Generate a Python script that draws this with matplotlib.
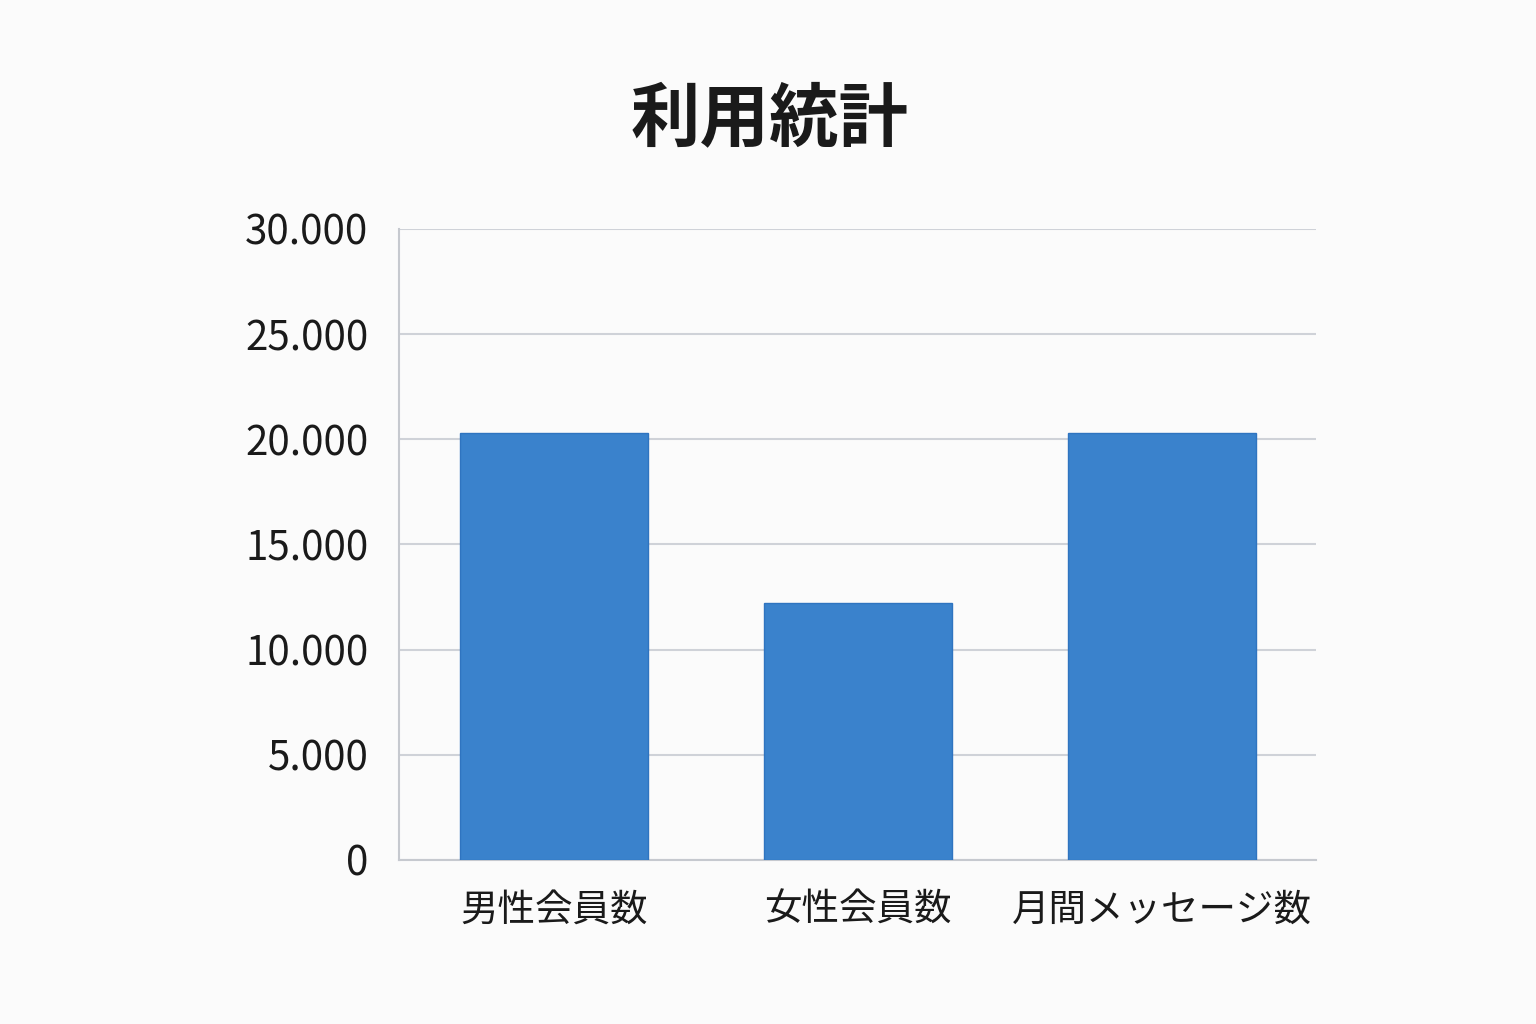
import matplotlib
matplotlib.use("Agg")
import matplotlib.pyplot as plt
from matplotlib.ticker import FuncFormatter

plt.rcParams['font.family'] = ['Noto Sans CJK JP', 'DejaVu Sans']

categories = ["男性会員数", "女性会員数", "月間メッセージ数"]
values = [20300, 12200, 20300]
yticks = [0, 5000, 10000, 15000, 20000, 25000, 30000]

fig = plt.figure(figsize=(15.36, 10.24), dpi=100)
fig.patch.set_facecolor("#fbfbfb")
ax = fig.add_axes([0.2598, 0.1602, 0.597, 0.6162])
ax.set_facecolor("#fbfbfb")
x = range(len(categories))
ax.bar(x, values, width=0.62, color="#3a82cc", edgecolor="#2f74c0", zorder=3)
ax.set_xlim(-0.51, 2.507)
ax.set_ylim(0, 30000)
ax.set_yticks(yticks)
ax.yaxis.set_major_formatter(FuncFormatter(lambda v, p: f"{int(v):,}".replace(",", ".")))
ax.set_xticks(list(x))
ax.set_xticklabels(categories)
ax.grid(axis="y", color="#cfd2d8", linewidth=1.5, zorder=0)
for s in ["top", "right"]:
    ax.spines[s].set_visible(False)
for s in ["left", "bottom"]:
    ax.spines[s].set_color("#c6c9cf")
    ax.spines[s].set_linewidth(1.5)
ax.tick_params(axis="y", length=0, labelsize=29, colors="#1a1a1a", pad=22)
ax.tick_params(axis="x", length=0, labelsize=27, colors="#1a1a1a", pad=22)
fig.text(0.501, 0.883, "利用統計", ha="center", va="center", fontsize=50, fontweight="bold", color="#1a1a1a")
fig.savefig("out.png", dpi=100, facecolor=fig.get_facecolor())
